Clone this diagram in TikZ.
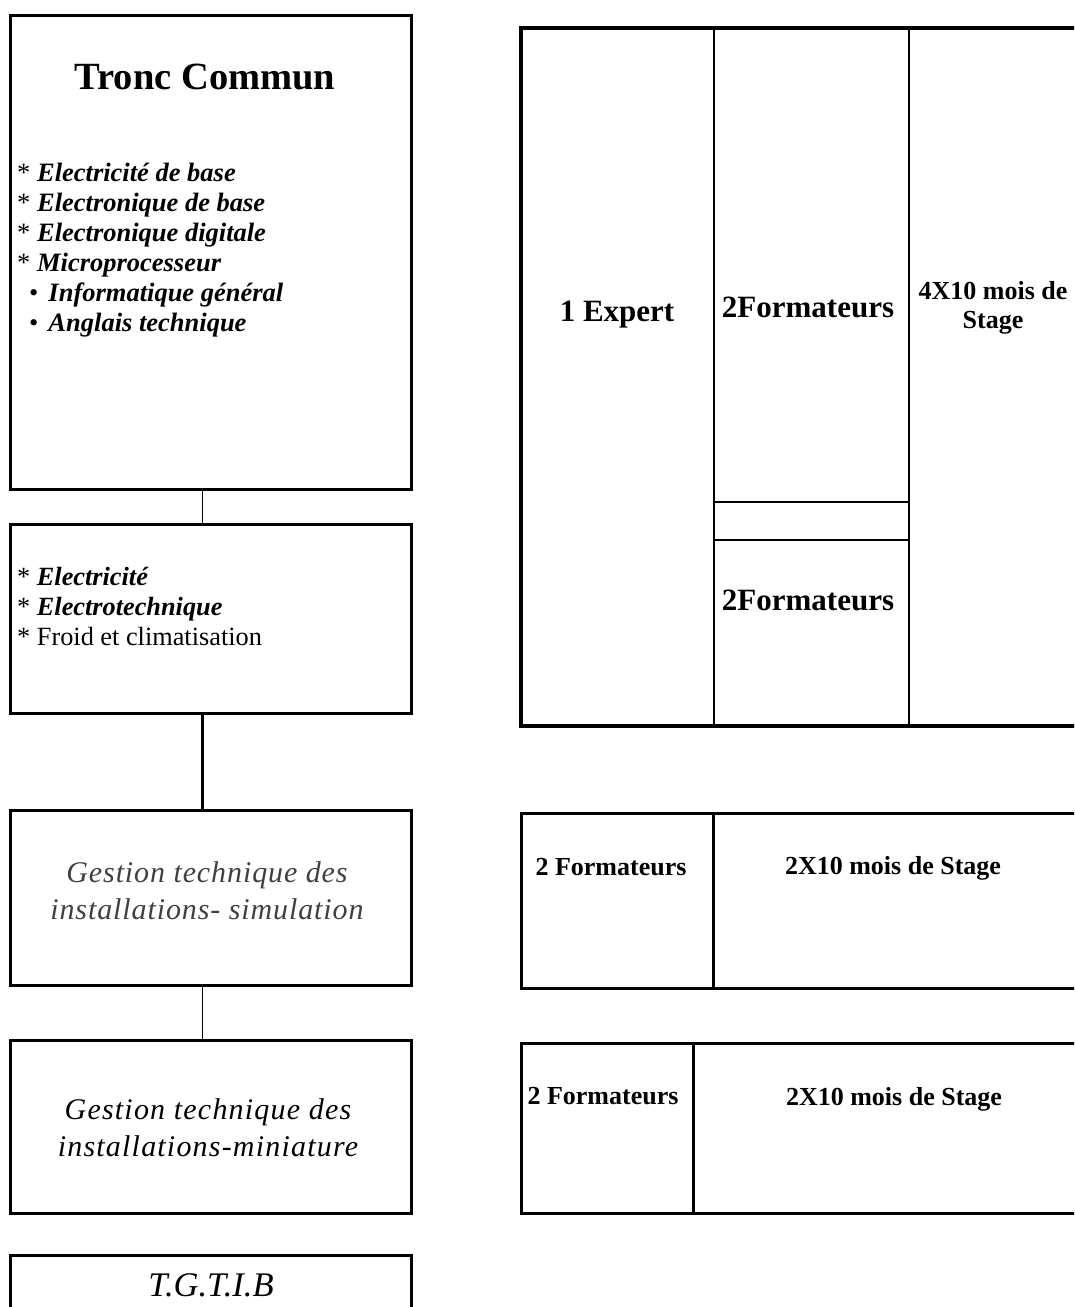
\documentclass[tikz,border=0pt]{standalone}
\usepackage{fontspec}
\setmainfont{Liberation Serif}
\begin{document}
\begin{tikzpicture}[x=1pt,y=-1pt,
  frame/.style={draw, line width=3pt, inner sep=0pt},
  cell/.style={draw, line width=1.8pt, inner sep=0pt},
  thinlink/.style={line width=1.5pt},
  thicklink/.style={line width=3.5pt},
  title/.style={inner sep=0pt, font=\fontsize{38.5}{40}\selectfont\bfseries},
  items/.style={inner sep=0pt, align=left, anchor=north west, font=\fontsize{26.3}{30}\selectfont},
  course/.style={inner sep=0pt, align=center, font=\fontsize{30}{37}\selectfont\itshape},
  bigtxt/.style={inner sep=0pt, align=center, font=\fontsize{31}{30}\selectfont\bfseries},
  midtxt/.style={inner sep=0pt, align=center, font=\fontsize{26}{29}\selectfont\bfseries}]
\clip (0,0) rectangle (1074,1307);

% left column: programme modules
\node[frame, minimum width=401pt, minimum height=474pt] (tc) at (210.5,252) {};
\node[title] (tct) at (205,77) {Tronc Commun};
\node[items, font=\fontsize{26.5}{30}\selectfont] (tcl) at (17,162.5) {%
  * \textit{\bfseries Electricité de base}\\
  * \textit{\bfseries Electronique de base}\\
  * \textit{\bfseries Electronique digitale}\\
  * \textit{\bfseries Microprocesseur}\\
  \hspace*{12pt}\textbullet\hspace{10pt}\textit{\bfseries Informatique général}\\
  \hspace*{12pt}\textbullet\hspace{10pt}\textit{\bfseries Anglais technique}};

\node[frame, minimum width=401pt, minimum height=189pt] (sp) at (210.5,618.5) {};
\node[items] (spl) at (17,567) {%
  * \textit{\bfseries Electricité}\\
  * \textit{\bfseries Electrotechnique}\\
  * Froid et climatisation};

\node[frame, minimum width=401pt, minimum height=175pt] (gs) at (210.5,897.5) {};
\node[course, text=black!75, font=\fontsize{30}{37}\selectfont\itshape\addfontfeatures{LetterSpace=3}] (gst) at (207,891) {Gestion technique des\\installations- simulation};

\node[frame, minimum width=401pt, minimum height=173pt] (gm) at (210.5,1126.5) {};
\node[course, font=\fontsize{30}{37}\selectfont\itshape\addfontfeatures{LetterSpace=4}] (gmt) at (208,1128) {Gestion technique des\\installations-miniature};

\node[frame, minimum width=401pt, minimum height=80pt] (tg) at (210.5,1295) {};
\node[course, font=\fontsize{34.5}{37}\selectfont\itshape] (tgt) at (211,1285) {T.G.T.I.B};

% links between modules
\draw[thinlink] ([xshift=-8pt]tc.south) -- ([xshift=-8pt]sp.north);
\draw[thicklink] ([xshift=-8pt]sp.south) -- ([xshift=-8pt]gs.north);
\draw[thinlink] ([xshift=-8pt]gs.south) -- ([xshift=-8pt]gm.north);

% right column: staff and internships
\node[cell, minimum width=193pt, minimum height=698pt] (c1) at (617.5,377) {};
\node[cell, minimum width=195pt, minimum height=474pt] (c2a) at (811.5,265) {};
\node[cell, minimum width=195pt, minimum height=38pt] (c2b) at (811.5,521) {};
\node[cell, minimum width=195pt, minimum height=186pt] (c2c) at (811.5,633) {};
\node[cell, minimum width=181pt, minimum height=698pt] (c3) at (999.5,377) {};
\node[frame, line width=3.5pt, minimum width=569pt, minimum height=698pt] (tb1) at (805.5,377) {};
\node[bigtxt] (exp) at (617,315) {1 Expert};
\node[bigtxt] (fa) at (808,307) {2Formateurs};
\node[bigtxt] (fb) at (808,600) {2Formateurs};
\node[midtxt] (st4) at (993,308) {4X10 mois de\\Stage};

\node[frame, minimum width=569pt, minimum height=175pt] (tb2) at (805.5,900.5) {};
\draw[line width=3pt] (tb2.north -| 713,0) -- (tb2.south -| 713,0);
\node[midtxt] (f2a) at (611,867) {2 Formateurs};
\node[midtxt] (s2a) at (893,868) {2X10 mois de Stage};

\node[frame, minimum width=569pt, minimum height=170pt] (tb3) at (805.5,1128) {};
\draw[line width=3pt] (tb3.north -| 693,0) -- (tb3.south -| 693,0);
\node[midtxt] (f2b) at (603,1096) {2 Formateurs};
\node[midtxt] (s2b) at (894,1099) {2X10 mois de Stage};
\end{tikzpicture}
\end{document}
